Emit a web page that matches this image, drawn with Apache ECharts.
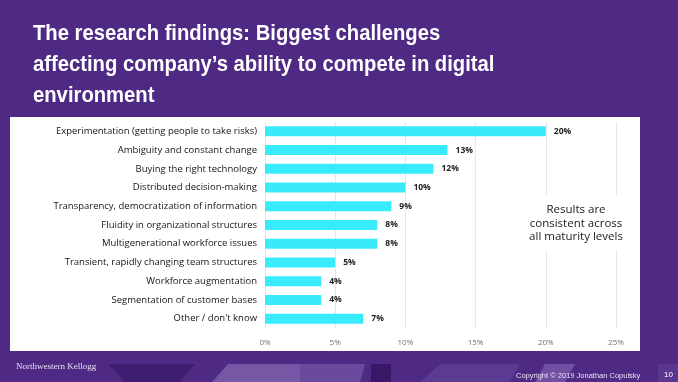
<!DOCTYPE html>
<html>
<head>
<meta charset="utf-8">
<script src="https://cdn.jsdelivr.net/npm/echarts@6/dist/echarts.min.js"></script>
<style>
html,body{margin:0;padding:0;background:#4f2a85;}
#chart{width:678px;height:382px;}
</style>
</head>
<body>
<div id="chart"></div>
<script>
const categories = [
  "Experimentation (getting people to take risks)",
  "Ambiguity and constant change",
  "Buying the right technology",
  "Distributed decision-making",
  "Transparency, democratization of information",
  "Fluidity in organizational structures",
  "Multigenerational workforce issues",
  "Transient, rapidly changing team structures",
  "Workforce augmentation",
  "Segmentation of customer bases",
  "Other / don't know"
];
const values = [20, 13, 12, 10, 9, 8, 8, 5, 4, 4, 7];
const xTicks = [0, 5, 10, 15, 20, 25];
const titleLines = [
  "The research findings: Biggest challenges",
  "affecting company\u2019s ability to compete in digital",
  "environment"
];
const noteLines = ["Results are", "consistent across", "all maturity levels"];

const chart = echarts.init(document.getElementById('chart'), null, {renderer: 'canvas'});
const fontLabel = '"Open Sans", "Noto Sans", sans-serif';

chart.setOption({
  backgroundColor: '#4f2a85',
  animation: false,
  graphic: [
    // footer decorative shapes
    {type: 'polygon', z: 0, shape: {points: [[108,364],[195,364],[180,382],[125,382]]}, style: {fill: '#3f1d70'}},
    {type: 'polygon', z: 0, shape: {points: [[228,364],[300,364],[300,382],[212,382]]}, style: {fill: '#7657a6'}},
    {type: 'polygon', z: 0, shape: {points: [[300,364],[365,364],[360,382],[300,382]]}, style: {fill: '#6a4a9c'}},
    {type: 'rect', z: 0, shape: {x: 371, y: 364, width: 20, height: 18}, style: {fill: '#3a1868'}},
    {type: 'polygon', z: 0, shape: {points: [[440,364],[520,364],[510,382],[420,382]]}, style: {fill: '#5b3a92'}},
    {type: 'polygon', z: 0, shape: {points: [[545,364],[575,364],[565,382],[535,382]]}, style: {fill: '#7050a4'}},
    {type: 'rect', z: 0, shape: {x: 658, y: 364, width: 20, height: 18}, style: {fill: '#5a3690'}},
    // white panel
    {type: 'rect', z: 0, shape: {x: 10, y: 117, width: 630, height: 234}, style: {fill: '#ffffff'}},
    // title
    {type: 'text', z: 5, x: 33, y: 18, scaleX: 0.92, style: {
      text: titleLines.join('\n'), fill: '#ffffff',
      font: 'bold 22px "Liberation Sans", Arial, sans-serif', lineHeight: 31
    }},
    // note background (breaks gridlines)
    {type: 'rect', z: 4, shape: {x: 527, y: 195, width: 98, height: 55}, style: {fill: '#ffffff'}},
    // note
    {type: 'text', z: 5, x: 576, y: 203, style: {
      text: noteLines.join('\n'), fill: '#1a1a1a', align: 'center', textAlign: 'center',
      font: '11.5px ' + fontLabel, lineHeight: 13.5
    }},
    // footer texts
    {type: 'text', z: 5, x: 16, y: 362, style: {
      text: 'Northwestern Kellogg', fill: '#e8e0f4',
      font: '9px "Liberation Serif", "DejaVu Serif", serif'
    }},
    {type: 'text', z: 5, x: 516, y: 372, style: {
      text: 'Copyright \u00a9 2019 Jonathan Copulsky', fill: '#e8e0f4',
      font: '7.5px "Liberation Sans", Arial, sans-serif'
    }},
    {type: 'text', z: 5, x: 664, y: 371, style: {
      text: '10', fill: '#ffffff',
      font: '8px "Liberation Sans", Arial, sans-serif'
    }}
  ],
  grid: {left: 265, right: 62, top: 122, bottom: 54, containLabel: false},
  xAxis: {
    type: 'value', min: 0, max: 25, interval: 5,
    axisLine: {show: false}, axisTick: {show: false},
    splitLine: {show: true, lineStyle: {color: '#e6e6e6', width: 1}},
    axisLabel: {
      color: '#6e6e6e', fontSize: 8, fontFamily: fontLabel, margin: 11,
      formatter: v => (xTicks.indexOf(v) >= 0 ? v + '%' : '')
    }
  },
  yAxis: {
    type: 'category', data: categories, inverse: true,
    axisLine: {show: false}, axisTick: {show: false}, splitLine: {show: false},
    axisLabel: {color: '#141414', fontSize: 9.5, fontFamily: fontLabel, margin: 8}
  },
  series: [{
    type: 'bar', data: values, barWidth: 10,
    itemStyle: {color: '#38ebfb'},
    label: {
      show: true, position: 'right', distance: 8,
      formatter: p => p.value + '%',
      color: '#222222', fontSize: 8.5, fontWeight: 'bold', fontFamily: fontLabel
    }
  }]
});
</script>
</body>
</html>
